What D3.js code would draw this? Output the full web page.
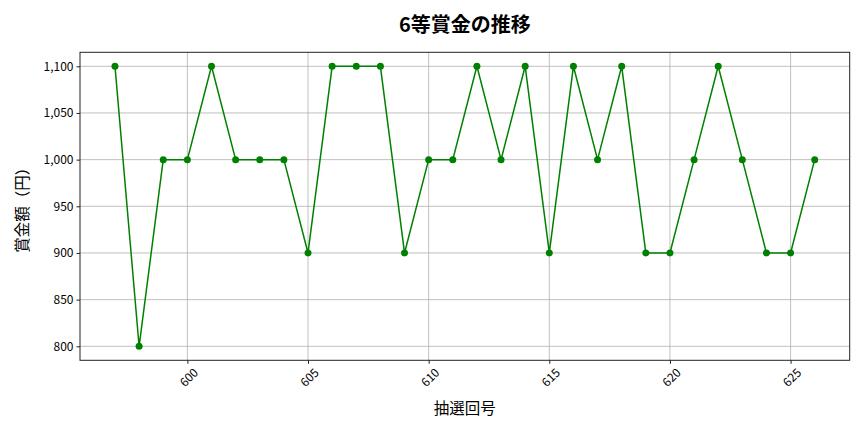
<!DOCTYPE html>
<html>
<head>
<meta charset="utf-8">
<script src="https://cdn.jsdelivr.net/npm/d3@7"></script>
<style>
  body { margin: 0; background: #fff; }
  #chart { width: 864px; height: 432px; }
  text { font-family: "Noto Sans CJK JP", "Noto Sans", sans-serif; }
</style>
</head>
<body>
<div id="chart"></div>
<script>
const draws = [597, 598, 599, 600, 601, 602, 603, 604, 605, 606, 607, 608, 609, 610, 611,
               612, 613, 614, 615, 616, 617, 618, 619, 620, 621, 622, 623, 624, 625, 626];
const prizes = [1100, 800, 1000, 1000, 1100, 1000, 1000, 1000, 900, 1100, 1100, 1100, 900, 1000, 1000,
                1100, 1000, 1100, 900, 1100, 1000, 1100, 900, 900, 1000, 1100, 1000, 900, 900, 1000];
const xTicks = [600, 605, 610, 615, 620, 625];
const yTicks = [800, 850, 900, 950, 1000, 1050, 1100];

const width_svg = 864, height_svg = 432;
const margin = {top: 52.3, right: 14.3, bottom: 71.7, left: 80};

const svg = d3.select('#chart').append('svg')
  .attr('width', width_svg)
  .attr('height', height_svg);

// matplotlib style 5% padding
let xMin = d3.min(draws), xMax = d3.max(draws), xPad = (xMax - xMin) * 0.05;
let yMin = d3.min(prizes), yMax = d3.max(prizes), yPad = (yMax - yMin) * 0.05;

let xScale = d3.scaleLinear()
  .domain([xMin - xPad, xMax + xPad])
  .range([margin.left, width_svg - margin.right]);
let yScale = d3.scaleLinear()
  .domain([yMin - yPad, yMax + yPad])
  .range([height_svg - margin.bottom, margin.top]);

const fmt = d3.format(',');

// grid
svg.append('g').selectAll('line').data(xTicks).enter().append('line')
  .attr('x1', d => xScale(d)).attr('x2', d => xScale(d))
  .attr('y1', margin.top).attr('y2', height_svg - margin.bottom)
  .attr('stroke', '#b0b0b0').attr('stroke-width', 0.8);
svg.append('g').selectAll('line').data(yTicks).enter().append('line')
  .attr('y1', d => yScale(d)).attr('y2', d => yScale(d))
  .attr('x1', margin.left).attr('x2', width_svg - margin.right)
  .attr('stroke', '#b0b0b0').attr('stroke-width', 0.8);

// axes
svg.append('g')
  .attr('transform', `translate(0, ${height_svg - margin.bottom})`)
  .call(d3.axisBottom(xScale).tickValues(xTicks).tickSize(3.5).tickSizeOuter(0).tickPadding(3))
  .call(g => g.select('.domain').remove())
  .call(g => g.selectAll('.tick line').attr('stroke', '#222'))
  .call(g => g.selectAll('.tick text')
    .attr('font-size', 12)
    .attr('fill', '#000')
    .attr('text-anchor', 'end')
    .attr('dy', '0.3em')
    .attr('transform', 'translate(4, 6) rotate(-45)'));

svg.append('g')
  .attr('transform', `translate(${margin.left}, 0)`)
  .call(d3.axisLeft(yScale).tickValues(yTicks).tickFormat(fmt).tickSize(3.5).tickSizeOuter(0).tickPadding(3))
  .call(g => g.select('.domain').remove())
  .call(g => g.selectAll('.tick line').attr('stroke', '#222'))
  .call(g => g.selectAll('.tick text').attr('font-size', 12).attr('fill', '#000'));

// frame
svg.append('rect')
  .attr('x', margin.left).attr('y', margin.top)
  .attr('width', width_svg - margin.left - margin.right)
  .attr('height', height_svg - margin.top - margin.bottom)
  .attr('fill', 'none').attr('stroke', '#222').attr('stroke-width', 1);

// line + markers
let line = d3.line()
  .x((d, i) => xScale(draws[i]))
  .y(d => yScale(d));

svg.append('path')
  .datum(prizes)
  .attr('fill', 'none')
  .attr('stroke', 'green')
  .attr('stroke-width', 1.5)
  .attr('stroke-linejoin', 'round')
  .attr('d', line);

svg.append('g').selectAll('circle').data(prizes).enter().append('circle')
  .attr('cx', (d, i) => xScale(draws[i]))
  .attr('cy', d => yScale(d))
  .attr('r', 3.5)
  .attr('fill', 'green');

// titles
svg.append('text')
  .attr('x', (margin.left + width_svg - margin.right) / 2)
  .attr('y', 32)
  .attr('text-anchor', 'middle')
  .attr('font-size', 20)
  .attr('font-weight', 'bold')
  .text('6等賞金の推移');

svg.append('text')
  .attr('x', (margin.left + width_svg - margin.right) / 2)
  .attr('y', 414)
  .attr('text-anchor', 'middle')
  .attr('font-size', 15.5)
  .text('抽選回号');

svg.append('text')
  .attr('transform', `translate(28, ${(margin.top + height_svg - margin.bottom) / 2}) rotate(-90)`)
  .attr('text-anchor', 'middle')
  .attr('font-size', 15.5)
  .text('賞金額（円）');
</script>
</body>
</html>
